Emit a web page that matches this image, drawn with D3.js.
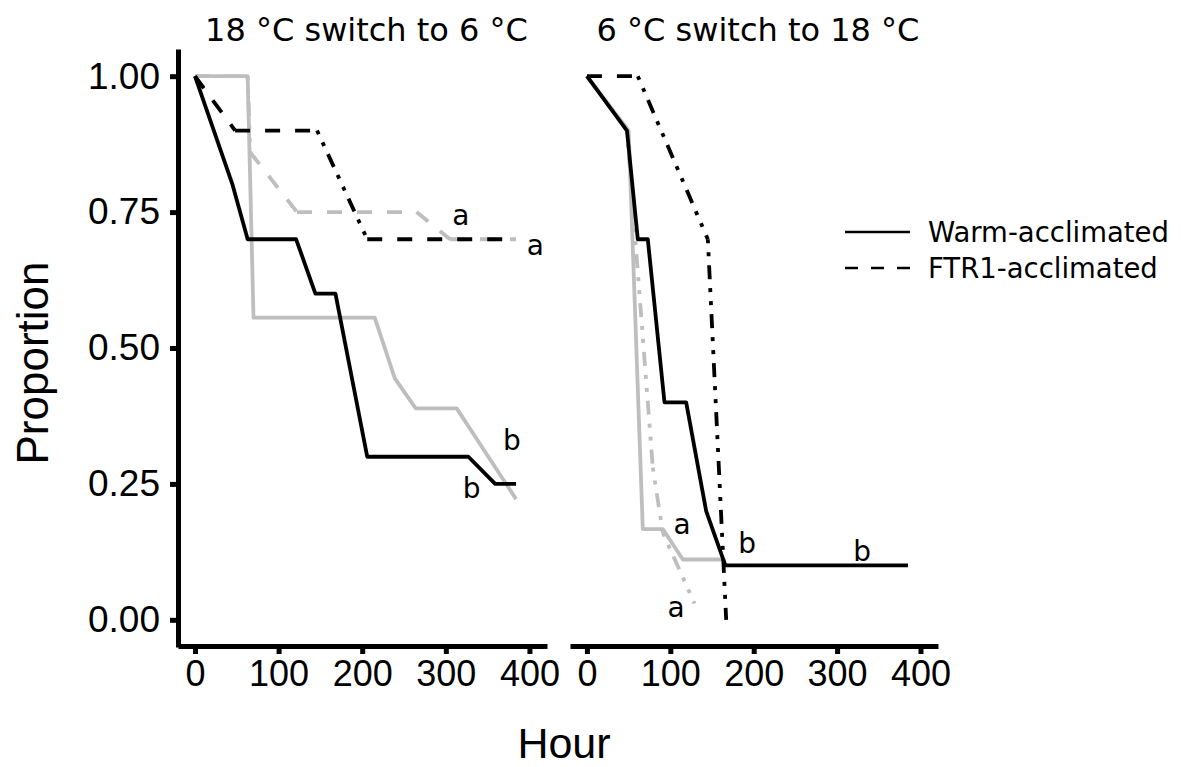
<!DOCTYPE html>
<html>
<head>
<meta charset="utf-8">
<script src="https://cdn.jsdelivr.net/npm/d3@7"></script>
<style>
  html, body { margin: 0; padding: 0; background: #fff; }
  svg { display: block; }
</style>
</head>
<body>
<svg id="chart" width="1181" height="767"></svg>
<script>
// ---- data: proportion remaining over time (hours) ----
const panelTitles = ["18 °C switch to 6 °C", "6 °C switch to 18 °C"];
const xTicks = [0, 100, 200, 300, 400];
const yTicks = [0, 0.25, 0.5, 0.75, 1];
const yTickLabels = ["0.00", "0.25", "0.50", "0.75", "1.00"];
const legendLabels = ["Warm-acclimated", "FTR1-acclimated"];

// panel 1: 18 °C switch to 6 °C
const p1WarmBlackHour = [0, 45, 63, 121, 144, 168, 206, 327, 359, 384];
const p1WarmBlackProp = [1, 0.8, 0.7, 0.7, 0.6, 0.6, 0.3, 0.3, 0.25, 0.25];
const p1WarmGrayHour  = [0, 63, 70, 215, 239, 264, 313, 384];
const p1WarmGrayProp  = [1, 1, 0.556, 0.556, 0.444, 0.389, 0.389, 0.222];
const p1FtrBlackHour  = [0, 48, 146, 206, 384];
const p1FtrBlackProp  = [1, 0.9, 0.9, 0.7, 0.7];
const p1FtrGrayHour   = [0, 63, 66, 122, 265, 305, 384];
const p1FtrGrayProp   = [1, 1, 0.86, 0.75, 0.75, 0.7, 0.7];

// panel 2: 6 °C switch to 18 °C
const p2WarmBlackHour = [0, 48, 61, 73, 93, 119, 143, 166, 385];
const p2WarmBlackProp = [1, 0.9, 0.7, 0.7, 0.4, 0.4, 0.2, 0.1, 0.1];
const p2WarmGrayHour  = [0, 50, 67, 91, 115, 163];
const p2WarmGrayProp  = [1, 0.9, 0.167, 0.167, 0.111, 0.111];
const p2FtrBlackHour  = [0, 61, 145, 167];
const p2FtrBlackProp  = [1, 1, 0.7, 0];
const p2FtrGrayHour   = [0, 48, 79, 91, 129];
const p2FtrGrayProp   = [1, 0.9, 0.28, 0.16, 0.03];

// group letters (hour, proportion, text)
const p1LetterHour = [318, 407, 379, 331];
const p1LetterProp = [0.745, 0.69, 0.33, 0.243];
const p1LetterText = ["a", "a", "b", "b"];
const p2LetterHour = [114, 107, 192, 330];
const p2LetterProp = [0.176, 0.024, 0.141, 0.127];
const p2LetterText = ["a", "a", "b", "b"];

// ---- layout ----
const svg = d3.select("#chart");
const BLACK = "#000000", GRAY = "#bebebe";
const tickFont = "'Liberation Sans', Arial, sans-serif";
const textFont = "'DejaVu Sans', Verdana, sans-serif";

const plotTop = 49, plotBottom = 647;
const panels = [
  { left: 178, right: 547, title: panelTitles[0],
    series: [
      { h: p1WarmGrayHour, p: p1WarmGrayProp, color: GRAY, dashed: false },
      { h: p1FtrGrayHour,  p: p1FtrGrayProp,  color: GRAY, dashed: true },
      { h: p1WarmBlackHour, p: p1WarmBlackProp, color: BLACK, dashed: false },
      { h: p1FtrBlackHour,  p: p1FtrBlackProp,  color: BLACK, dashed: true }
    ],
    letters: { h: p1LetterHour, p: p1LetterProp, t: p1LetterText },
    yAxis: true },
  { left: 570, right: 938, title: panelTitles[1],
    series: [
      { h: p2WarmGrayHour, p: p2WarmGrayProp, color: GRAY, dashed: false },
      { h: p2FtrGrayHour,  p: p2FtrGrayProp,  color: GRAY, dashed: true },
      { h: p2WarmBlackHour, p: p2WarmBlackProp, color: BLACK, dashed: false },
      { h: p2FtrBlackHour,  p: p2FtrBlackProp,  color: BLACK, dashed: true }
    ],
    letters: { h: p2LetterHour, p: p2LetterProp, t: p2LetterText },
    yAxis: false }
];

const y = d3.scaleLinear().domain([-0.05, 1.05]).range([plotBottom, plotTop]);
const LW = 3.8;

panels.forEach(panel => {
  const x = d3.scaleLinear().domain([-20.3, 421]).range([panel.left, panel.right]);
  const g = svg.append("g");

  // lines
  panel.series.forEach(s => {
    const pts = s.h.map((h, i) => [x(h), y(s.p[i])]);
    if (!s.dashed) {
      g.append("path")
        .attr("d", d3.line()(pts))
        .attr("fill", "none")
        .attr("stroke", s.color)
        .attr("stroke-width", LW)
        .attr("stroke-linejoin", "round");
    } else {
      // each piece keeps its own dash phase; steep drops show a broken dot pattern
      for (let i = 0; i < pts.length - 1; i++) {
        const a = pts[i], b = pts[i + 1];
        const dx = Math.abs(b[0] - a[0]), dy = Math.abs(b[1] - a[1]);
        const steep = dy > 2 * dx;
        g.append("line")
          .attr("x1", a[0]).attr("y1", a[1])
          .attr("x2", b[0]).attr("y2", b[1])
          .attr("stroke", s.color)
          .attr("stroke-width", LW)
          .attr("stroke-dasharray", steep ? "4,9,4,9,14,9" : "15,15");
      }
    }
  });

  // letters
  panel.letters.t.forEach((t, i) => {
    g.append("text")
      .attr("x", x(panel.letters.h[i]))
      .attr("y", y(panel.letters.p[i]))
      .attr("dy", "0.35em")
      .attr("text-anchor", "middle")
      .attr("font-family", textFont)
      .attr("font-size", 28)
      .attr("fill", "#000")
      .text(t);
  });

  // x axis
  const xAxis = d3.axisBottom(x).tickValues(xTicks).tickSize(8).tickSizeOuter(0).tickPadding(6);
  const gx = g.append("g").attr("transform", `translate(0,${plotBottom - 1})`).call(xAxis);
  gx.select(".domain").attr("stroke", "#000").attr("stroke-width", 5);
  gx.selectAll(".tick line").attr("stroke", "#000").attr("stroke-width", 5);
  gx.selectAll(".tick text").attr("font-family", tickFont).attr("font-size", 36).attr("fill", "#000");

  if (panel.yAxis) {
    const yAxis = d3.axisLeft(y).tickValues(yTicks).tickFormat((d, i) => yTickLabels[i])
      .tickSize(8).tickSizeOuter(0).tickPadding(10);
    const gy = g.append("g").attr("transform", `translate(${panel.left},0)`).call(yAxis);
    gy.select(".domain").attr("stroke", "#000").attr("stroke-width", 5);
    gy.selectAll(".tick line").attr("stroke", "#000").attr("stroke-width", 5);
    gy.selectAll(".tick text").attr("font-family", tickFont).attr("font-size", 37).attr("fill", "#000");
  }

  // strip title
  g.append("text")
    .attr("x", (panel.left + panel.right) / 2 + 4)
    .attr("y", 41)
    .attr("text-anchor", "middle")
    .attr("font-family", textFont)
    .attr("font-size", 32)
    .attr("fill", "#000")
    .text(panel.title);
});

// axis titles
svg.append("text")
  .attr("x", 564).attr("y", 758)
  .attr("text-anchor", "middle")
  .attr("font-family", tickFont).attr("font-size", 43)
  .text("Hour");
svg.append("text")
  .attr("transform", "translate(48,363) rotate(-90)")
  .attr("text-anchor", "middle")
  .attr("font-family", tickFont).attr("font-size", 44)
  .text("Proportion");

// legend (linetype)
const legend = svg.append("g");
[0, 1].forEach(i => {
  const ly = 232 + i * 36;
  legend.append("line")
    .attr("x1", 845).attr("x2", 910).attr("y1", ly).attr("y2", ly)
    .attr("stroke", "#000").attr("stroke-width", 2.6)
    .attr("stroke-dasharray", i === 1 ? "13,13" : null);
  legend.append("text")
    .attr("x", 928).attr("y", ly).attr("dy", "0.35em")
    .attr("font-family", textFont).attr("font-size", 27.5)
    .text(legendLabels[i]);
});
</script>
</body>
</html>
